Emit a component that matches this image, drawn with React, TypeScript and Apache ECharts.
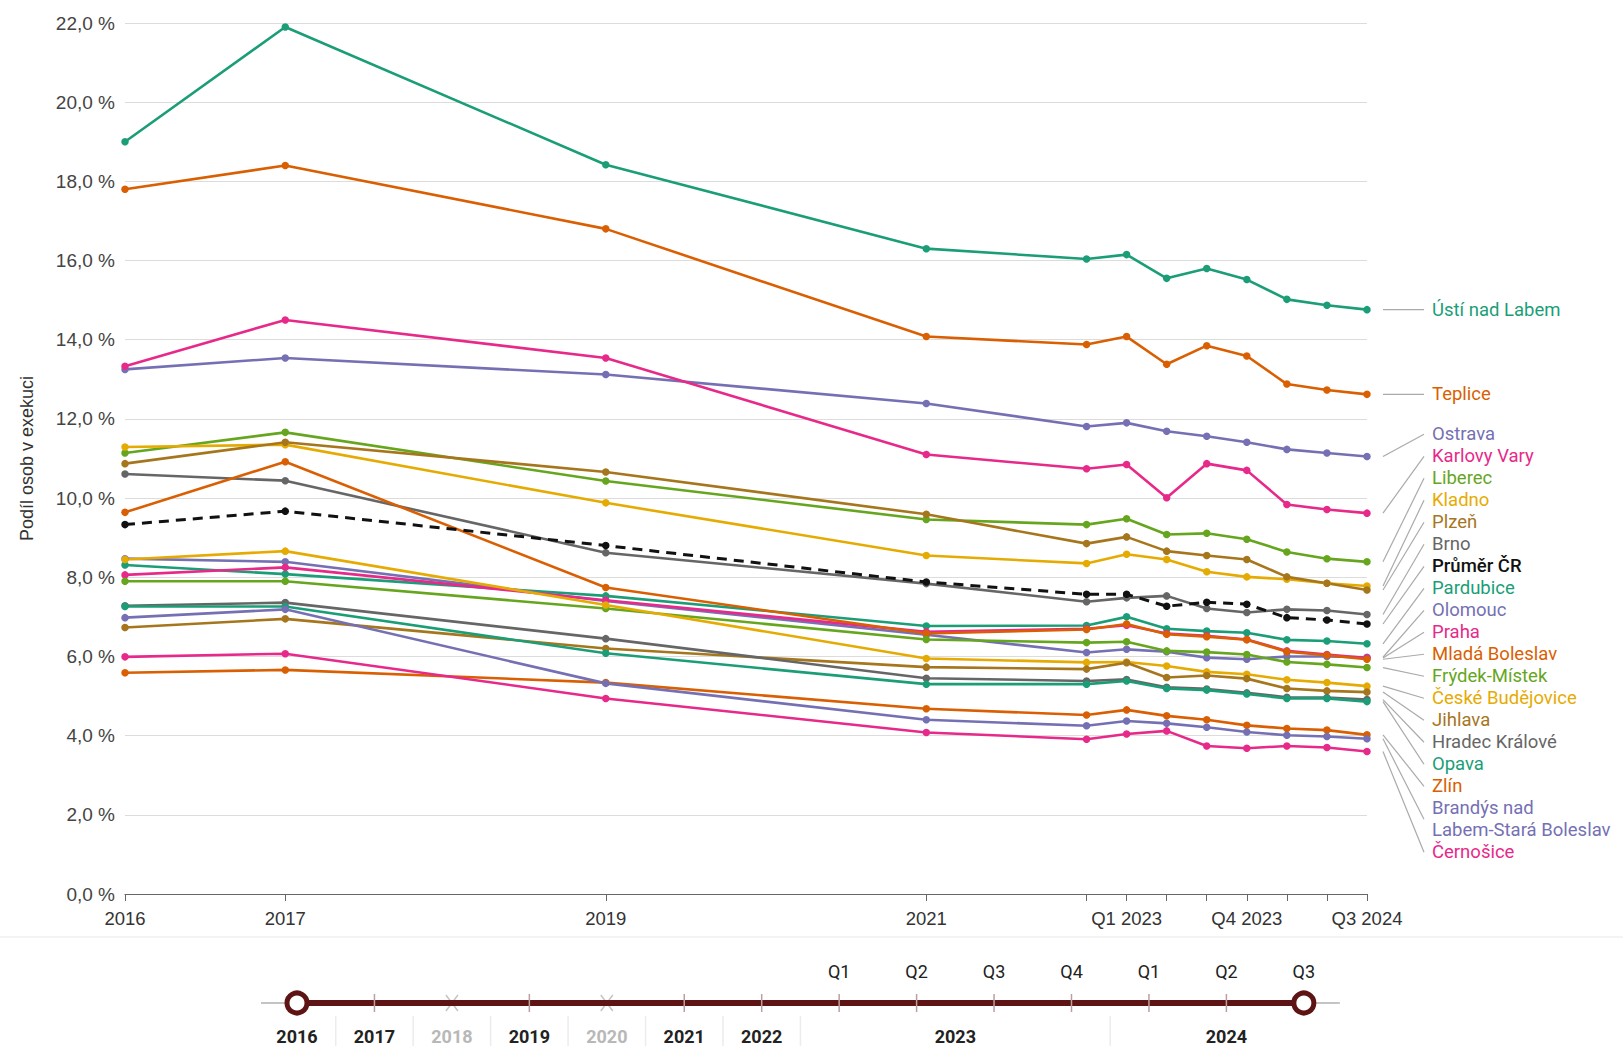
import React, { useEffect, useRef } from "react";
import * as echarts from "echarts";

// ---------- DATA ----------
const periods = ["2016", "2017", "2019", "2021", "Q4 2022", "Q1 2023", "Q2 2023", "Q3 2023", "Q4 2023", "Q1 2024", "Q2 2024", "Q3 2024"];
// position of each period counted in quarters from Q4 2016
const quarterIndex = [0, 4, 12, 20, 24, 25, 26, 27, 28, 29, 30, 31];
const labelledPeriods = ["2016", "2017", "2019", "2021", "Q1 2023", "Q4 2023", "Q3 2024"];
const yTicks = [0, 2, 4, 6, 8, 10, 12, 14, 16, 18, 20, 22];

const ustiNadLabem = [19.0, 21.9, 18.42, 16.3, 16.04, 16.15, 15.55, 15.8, 15.52, 15.02, 14.87, 14.76];
const teplice = [17.8, 18.4, 16.8, 14.08, 13.88, 14.08, 13.38, 13.85, 13.59, 12.88, 12.73, 12.62];
const ostrava = [13.25, 13.54, 13.12, 12.39, 11.81, 11.9, 11.69, 11.56, 11.41, 11.23, 11.14, 11.05];
const karlovyVary = [13.33, 14.5, 13.54, 11.1, 10.74, 10.85, 10.01, 10.87, 10.7, 9.84, 9.71, 9.62];
const liberec = [11.14, 11.66, 10.43, 9.46, 9.33, 9.48, 9.08, 9.11, 8.96, 8.64, 8.47, 8.39];
const kladno = [11.29, 11.35, 9.88, 8.55, 8.35, 8.58, 8.45, 8.14, 8.01, 7.95, 7.85, 7.78];
const plzen = [10.87, 11.41, 10.66, 9.59, 8.85, 9.02, 8.66, 8.55, 8.45, 8.01, 7.85, 7.68];
const brno = [10.61, 10.44, 8.62, 7.84, 7.38, 7.48, 7.53, 7.21, 7.11, 7.19, 7.16, 7.06];
const prumerCR = [9.33, 9.67, 8.8, 7.88, 7.57, 7.57, 7.27, 7.37, 7.32, 6.98, 6.92, 6.82];
const pardubice = [8.31, 8.08, 7.53, 6.77, 6.78, 7.0, 6.7, 6.64, 6.6, 6.42, 6.39, 6.32];
const olomouc = [8.47, 8.39, 7.4, 6.55, 6.1, 6.18, 6.12, 5.97, 5.93, 6.0, 6.0, 5.98];
const praha = [8.06, 8.25, 7.42, 6.62, 6.7, 6.79, 6.58, 6.52, 6.43, 6.14, 6.05, 5.96];
const mladaBoleslav = [9.64, 10.92, 7.74, 6.58, 6.68, 6.82, 6.56, 6.5, 6.42, 6.12, 6.03, 5.93];
const frydekMistek = [7.9, 7.9, 7.21, 6.43, 6.35, 6.37, 6.14, 6.11, 6.05, 5.86, 5.8, 5.72];
const ceskeBudejovice = [8.45, 8.66, 7.3, 5.95, 5.85, 5.86, 5.76, 5.61, 5.55, 5.41, 5.34, 5.25];
const jihlava = [6.73, 6.95, 6.2, 5.73, 5.68, 5.84, 5.47, 5.52, 5.44, 5.19, 5.13, 5.1];
const hradecKralove = [7.28, 7.36, 6.45, 5.45, 5.38, 5.42, 5.22, 5.18, 5.08, 4.97, 4.96, 4.91];
const opava = [7.26, 7.26, 6.08, 5.3, 5.3, 5.38, 5.19, 5.15, 5.05, 4.94, 4.94, 4.86];
const zlin = [5.59, 5.66, 5.34, 4.68, 4.52, 4.65, 4.5, 4.4, 4.26, 4.18, 4.14, 4.02];
const brandys = [6.98, 7.19, 5.32, 4.4, 4.25, 4.37, 4.31, 4.21, 4.09, 4.01, 3.98, 3.92];
const cernosice = [5.99, 6.07, 4.94, 4.08, 3.91, 4.04, 4.12, 3.74, 3.68, 3.74, 3.7, 3.6];

const timelineLabels = ["2016", "2017", "2018", "2019", "2020", "2021", "2022", "Q1", "Q2", "Q3", "Q4", "Q1", "Q2", "Q3"];
const timelineDisabled = ["2018", "2020"];
const timelineGroups = ["2023", "2024"];

// ---------- STYLE ----------
const TEAL = "#1b9e77";
const ORANGE = "#d95f02";
const PURPLE = "#7570b3";
const PINK = "#e7298a";
const GREEN = "#66a61e";
const YELLOW = "#e6ab02";
const BROWN = "#a6761d";
const GRAY = "#666666";
const BLACK = "#111111";

type Def = { name: string; label: string; color: string; values: number[]; dashed?: boolean };
const defs: Def[] = [
  { name: "Ústí nad Labem", label: "Ústí nad Labem", color: TEAL, values: ustiNadLabem },
  { name: "Teplice", label: "Teplice", color: ORANGE, values: teplice },
  { name: "Ostrava", label: "Ostrava", color: PURPLE, values: ostrava },
  { name: "Karlovy Vary", label: "Karlovy Vary", color: PINK, values: karlovyVary },
  { name: "Liberec", label: "Liberec", color: GREEN, values: liberec },
  { name: "Kladno", label: "Kladno", color: YELLOW, values: kladno },
  { name: "Plzeň", label: "Plzeň", color: BROWN, values: plzen },
  { name: "Brno", label: "Brno", color: GRAY, values: brno },
  { name: "Pardubice", label: "Pardubice", color: TEAL, values: pardubice },
  { name: "Olomouc", label: "Olomouc", color: PURPLE, values: olomouc },
  { name: "Praha", label: "Praha", color: PINK, values: praha },
  { name: "Mladá Boleslav", label: "Mladá Boleslav", color: ORANGE, values: mladaBoleslav },
  { name: "Frýdek-Místek", label: "Frýdek-Místek", color: GREEN, values: frydekMistek },
  { name: "České Budějovice", label: "České Budějovice", color: YELLOW, values: ceskeBudejovice },
  { name: "Jihlava", label: "Jihlava", color: BROWN, values: jihlava },
  { name: "Hradec Králové", label: "Hradec Králové", color: GRAY, values: hradecKralove },
  { name: "Opava", label: "Opava", color: TEAL, values: opava },
  { name: "Zlín", label: "Zlín", color: ORANGE, values: zlin },
  { name: "Brandýs nad Labem-Stará Boleslav", label: "Brandýs nad\nLabem-Stará Boleslav", color: PURPLE, values: brandys },
  { name: "Černošice", label: "Černošice", color: PINK, values: cernosice },
  { name: "Průměr ČR", label: "Průměr ČR", color: BLACK, values: prumerCR, dashed: true },
];

const AXIS_FONT = "'Liberation Sans', Arial, sans-serif";
const LABEL_FONT = "Roboto, 'Noto Sans', sans-serif";

export default function App() {
  const ref = useRef<HTMLDivElement>(null);

  useEffect(() => {
    if (!ref.current) return;
    const chart = echarts.init(ref.current, undefined, { renderer: "svg" });

    const tickValues = quarterIndex;
    const labelValues = quarterIndex.filter((_, i) => labelledPeriods.includes(periods[i]));
    const periodOf = (v: number) => {
      const i = quarterIndex.indexOf(Math.round(v));
      return i >= 0 ? periods[i] : "";
    };

    const option: any = {
      animation: false,
      backgroundColor: "#ffffff",
      grid: { left: 125, right: 256, top: 23, bottom: 152, containLabel: false },
      xAxis: {
        type: "value",
        min: quarterIndex[0],
        max: quarterIndex[quarterIndex.length - 1],
        axisLine: { show: true, onZero: false, lineStyle: { color: "#666", width: 1.2 } },
        axisTick: { show: true, length: 7, customValues: tickValues, lineStyle: { color: "#666" } },
        axisLabel: {
          customValues: labelValues,
          formatter: (v: number) => periodOf(v),
          color: "#333",
          fontFamily: AXIS_FONT,
          fontSize: 18.5,
          margin: 15,
        },
        splitLine: { show: false },
      },
      yAxis: {
        type: "value",
        min: yTicks[0],
        max: yTicks[yTicks.length - 1],
        interval: 2,
        name: "Podíl osob v exekuci",
        nameLocation: "middle",
        nameGap: 89,
        nameTextStyle: { color: "#333", fontFamily: AXIS_FONT, fontSize: 18 },
        axisLine: { show: false },
        axisTick: { show: false },
        axisLabel: {
          formatter: (v: number) => v.toFixed(1).replace(".", ",") + " %",
          color: "#444",
          fontFamily: AXIS_FONT,
          fontSize: 19,
          margin: 10,
        },
        splitLine: { show: true, lineStyle: { color: "#dcdcdc", width: 1.2 } },
      },
      series: defs.map((d) => ({
        type: "line",
        name: d.name,
        data: d.values.map((v, i) => [quarterIndex[i], v]),
        symbol: "circle",
        symbolSize: 7.5,
        showSymbol: true,
        silent: true,
        z: d.dashed ? 4 : 2,
        lineStyle: { color: d.color, width: d.dashed ? 3 : 2.6, type: d.dashed ? [10, 7] : "solid" },
        itemStyle: { color: d.color },
      })),
    };
    chart.setOption(option);

    // ---------- end labels with leader lines ----------
    const last = quarterIndex.length - 1;
    const LH = 22;
    const CLUSTER_SHIFT = -10;
    const items = defs.map((d) => {
      const p = chart.convertToPixel({ gridIndex: 0 }, [quarterIndex[last], d.values[last]]) as number[];
      const lines = d.label.split("\n").length;
      return { d, px: p[0], py: p[1], h: lines * LH, y: 0 };
    });
    const sorted = [...items].sort((a, b) => a.py - b.py);
    type Block = { items: typeof items; top: number; height: number };
    const blocks: Block[] = [];
    const place = (its: typeof items): Block => {
      let off = 0;
      let s = 0;
      for (const it of its) {
        s += it.py - off - it.h / 2;
        off += it.h;
      }
      return { items: its, top: s / its.length + (its.length > 1 ? CLUSTER_SHIFT : 0), height: off };
    };
    for (const it of sorted) {
      blocks.push(place([it]));
      while (blocks.length > 1) {
        const a = blocks[blocks.length - 2];
        const c = blocks[blocks.length - 1];
        if (a.top + a.height > c.top) {
          blocks.splice(blocks.length - 2, 2, place(a.items.concat(c.items)));
        } else break;
      }
    }
    for (const b of blocks) {
      let off = 0;
      for (const it of b.items) {
        it.y = b.top + off + it.h / 2;
        off += it.h;
      }
    }

    const graphics: any[] = [];
    for (const it of items) {
      const x0 = it.px + 16;
      const x1 = it.px + 57;
      graphics.push({
        type: "line",
        silent: true,
        shape: { x1: x0, y1: it.py, x2: x1, y2: it.y },
        style: { stroke: "#aaaaaa", lineWidth: 1.2 },
      });
      graphics.push({
        type: "text",
        silent: true,
        x: it.px + 65,
        y: it.y,
        style: {
          text: it.d.label,
          fill: it.d.color,
          font: `${it.d.dashed ? 500 : 400} 18.5px ${LABEL_FONT}`,
          verticalAlign: "middle",
          align: "left",
          lineHeight: LH,
        },
      });
    }

    // ---------- decorative timeline (period selector) ----------
    const W = 1623;
    graphics.push({
      type: "line",
      silent: true,
      shape: { x1: 0, y1: 937, x2: W, y2: 937 },
      style: { stroke: "#efefef", lineWidth: 1.5 },
    });
    const tStart = 297;
    const tStep = 77.45;
    const barY = 1003;
    const tx = (i: number) => tStart + i * tStep;
    const lastT = timelineLabels.length - 1;
    graphics.push({
      type: "line", silent: true,
      shape: { x1: tx(0) - 36, y1: barY, x2: tx(lastT) + 36, y2: barY },
      style: { stroke: "#c4c4c4", lineWidth: 2 },
    });
    timelineLabels.forEach((lab, i) => {
      const x = tx(i);
      const disabled = timelineDisabled.includes(lab);
      if (disabled) {
        graphics.push({ type: "line", silent: true, shape: { x1: x - 6, y1: barY - 8, x2: x + 6, y2: barY + 8 }, style: { stroke: "#c4c4c4", lineWidth: 1.5 } });
        graphics.push({ type: "line", silent: true, shape: { x1: x - 6, y1: barY + 8, x2: x + 6, y2: barY - 8 }, style: { stroke: "#c4c4c4", lineWidth: 1.5 } });
      }
    });
    graphics.push({
      type: "line", silent: true,
      shape: { x1: tx(0), y1: barY, x2: tx(lastT), y2: barY },
      style: { stroke: "#5e1414", lineWidth: 6 },
    });
    timelineLabels.forEach((lab, i) => {
      const x = tx(i);
      const disabled = timelineDisabled.includes(lab);
      if (!disabled && i > 0 && i < lastT) {
        graphics.push({ type: "line", silent: true, shape: { x1: x, y1: barY - 9, x2: x, y2: barY + 9 }, style: { stroke: "#b9a0a0", lineWidth: 1.5 } });
      }
      const isQuarter = lab.startsWith("Q");
      graphics.push({
        type: "text", silent: true,
        x, y: isQuarter ? 971 : 1036,
        style: {
          text: lab,
          fill: disabled ? "#b8b8b8" : "#222",
          font: `${isQuarter ? 400 : 700} 18px ${LABEL_FONT}`,
          align: "center",
          verticalAlign: "middle",
        },
      });
    });
    // year group labels below quarter points
    const firstQ = timelineLabels.findIndex((l) => l.startsWith("Q"));
    const q2023 = [firstQ, firstQ + 3];
    const q2024 = [firstQ + 4, lastT];
    [q2023, q2024].forEach((rng, gi) => {
      graphics.push({
        type: "text", silent: true,
        x: (tx(rng[0]) + tx(rng[1])) / 2, y: 1036,
        style: { text: timelineGroups[gi], fill: "#222", font: `700 18px ${LABEL_FONT}`, align: "center", verticalAlign: "middle" },
      });
    });
    // separators between label cells
    const seps: number[] = [];
    for (let i = 0; i < firstQ; i++) seps.push(tx(i) + tStep / 2);
    seps.push(tx(firstQ + 3) + tStep / 2);
    seps.forEach((x) => {
      graphics.push({ type: "line", silent: true, shape: { x1: x, y1: 1016, x2: x, y2: 1046 }, style: { stroke: "#ececec", lineWidth: 1.5 } });
    });
    // handles
    [tx(0), tx(lastT)].forEach((x) => {
      graphics.push({
        type: "circle", silent: true, z: 10,
        shape: { cx: x, cy: barY, r: 10 },
        style: { fill: "#ffffff", stroke: "#5e1414", lineWidth: 5 },
      });
    });

    chart.setOption({ graphic: graphics });

    return () => chart.dispose();
  }, []);

  return <div ref={ref} style={{ position: "absolute", left: 0, top: 0, width: 1623, height: 1046 }} />;
}
